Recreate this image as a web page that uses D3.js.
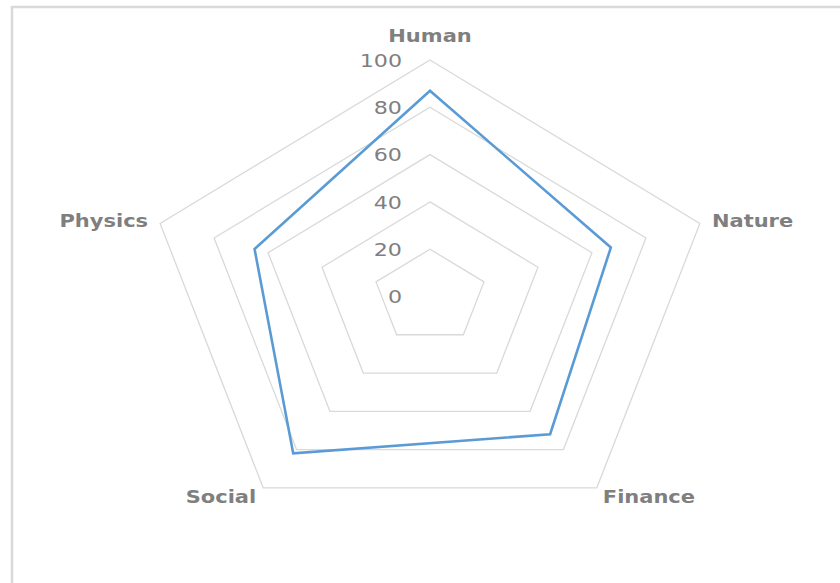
<!DOCTYPE html>
<html>
<head>
<meta charset="utf-8">
<script src="https://cdn.jsdelivr.net/npm/d3@7"></script>
<style>
  html, body { margin: 0; padding: 0; background: #fff; }
  svg { display: block; }
</style>
</head>
<body>
<svg id="chart" width="840" height="583"></svg>
<script>
// ---- data ----
const categories = ["Human", "Nature", "Finance", "Social", "Physics"];
const values = [87, 67, 72, 82, 65];
const tickValues = [0, 20, 40, 60, 80, 100];
const tickLabels = ["0", "20", "40", "60", "80", "100"];

// ---- layout ----
const cx = 430, cy = 296.5, R = 236.5, sx = 1.2;
const svg = d3.select("#chart");

// border (chart area frame, partly cut off)
svg.append("path")
  .attr("d", "M12,600 V7 H860")
  .attr("fill", "none")
  .attr("stroke", "#d9d9d9")
  .attr("stroke-width", 2.5);

const r = d3.scaleLinear().domain([0, 100]).range([0, R]);
const angle = d3.scaleLinear().domain([0, categories.length]).range([0, 2 * Math.PI]);

function pt(i, v) {
  const a = angle(i);
  return [cx + sx * r(v) * Math.sin(a), cy - r(v) * Math.cos(a)];
}

// grid pentagons
const lineClosed = d3.line().curve(d3.curveLinearClosed);
svg.append("g").selectAll("path")
  .data(tickValues.slice(1))
  .join("path")
  .attr("d", t => lineClosed(categories.map((c, i) => pt(i, t))))
  .attr("fill", "none")
  .attr("stroke", "#d9d9d9")
  .attr("stroke-width", 1.3);

// data series
svg.append("path")
  .attr("d", lineClosed(values.map((v, i) => pt(i, v))))
  .attr("fill", "none")
  .attr("stroke", "#5b9bd5")
  .attr("stroke-width", 2.6)
  .attr("stroke-linejoin", "miter");

// tick labels
svg.append("g").selectAll("g")
  .data(tickValues)
  .join("g")
  .attr("transform", t => `translate(${cx - 28},${cy - r(t)}) scale(${sx},1)`)
  .append("text")
  .text((t, i) => tickLabels[i])
  .attr("text-anchor", "end")
  .attr("dy", "0.36em")
  .attr("font-family", "DejaVu Sans, sans-serif")
  .attr("font-size", 18.5)
  .attr("fill", "#7f7f7f");

// category labels
const labelOffsets = [
  { dx: 0, dy: -18, anchor: "middle", base: "auto" },
  { dx: 12, dy: -3, anchor: "start", base: "middle" },
  { dx: 6, dy: 2, anchor: "start", base: "hanging" },
  { dx: -7, dy: 2, anchor: "end", base: "hanging" },
  { dx: -12, dy: -3, anchor: "end", base: "middle" }
];
svg.append("g").selectAll("g")
  .data(categories)
  .join("g")
  .attr("transform", (c, i) => {
    const p = pt(i, 100);
    return `translate(${p[0] + labelOffsets[i].dx},${p[1] + labelOffsets[i].dy}) scale(${sx},1)`;
  })
  .append("text")
  .text(c => c)
  .attr("text-anchor", (c, i) => labelOffsets[i].anchor)
  .attr("dy", (c, i) => labelOffsets[i].base === "middle" ? "0.36em" : (labelOffsets[i].base === "hanging" ? "0.73em" : 0))
  .attr("font-family", "DejaVu Sans, sans-serif")
  .attr("font-weight", "bold")
  .attr("font-size", 17.5)
  .attr("fill", "#7f7f7f");
</script>
</body>
</html>
